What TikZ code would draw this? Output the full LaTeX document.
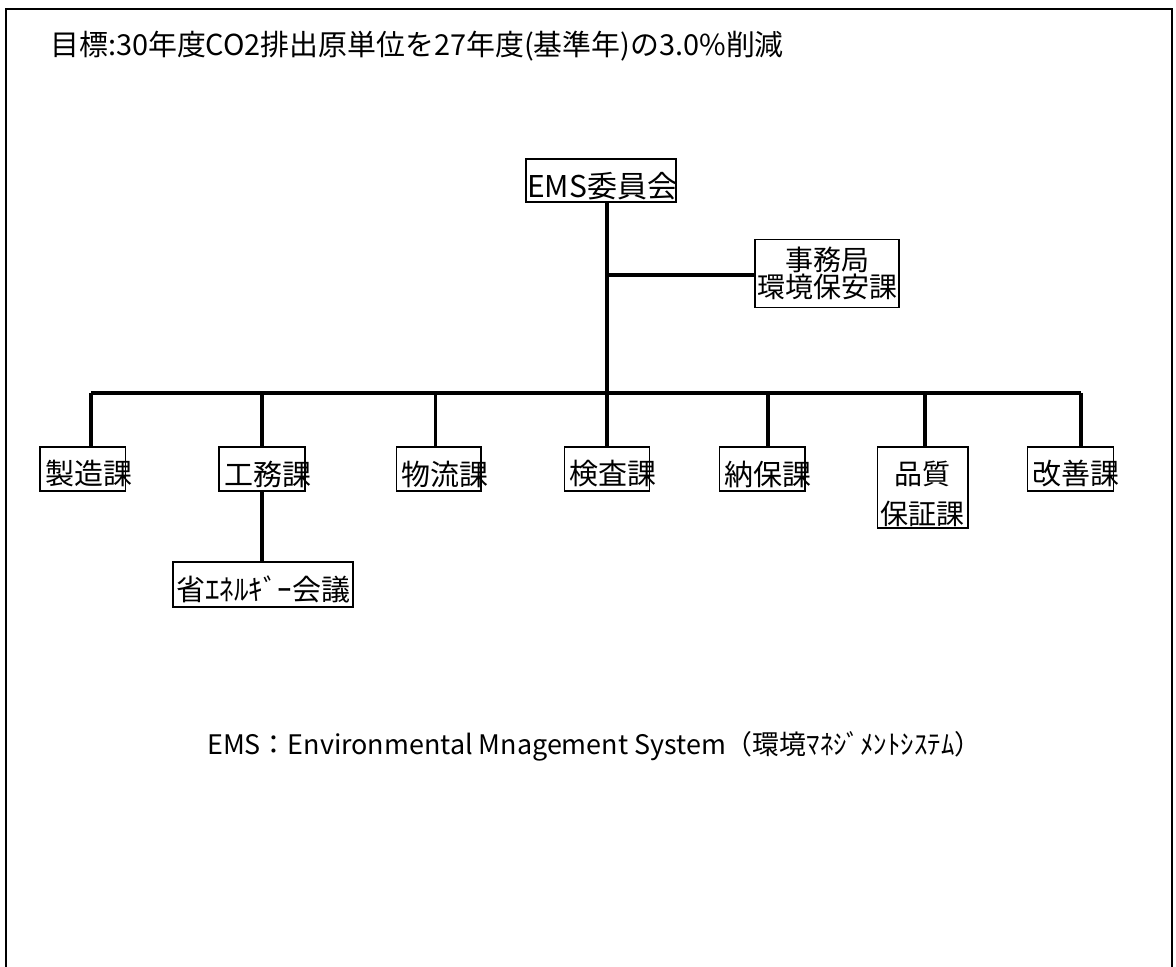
\documentclass[tikz,border=0pt]{standalone}
\usepackage{fontspec}
\setmainfont{Noto Sans CJK JP}
\begin{document}
\begin{tikzpicture}[x=1pt,y=-1pt,
  frame/.style={line width=2.2pt},
  box/.style={draw, line width=1.6pt, inner sep=0pt},
  lbl/.style={inner sep=0pt, font=\fontsize{29}{33}\selectfont},
  conn/.style={line width=3.2pt},
  bus/.style={line width=4.2pt}]
\useasboundingbox (0,0) rectangle (1176,967);
\fill[white] (0,0) rectangle (1176,967);
\draw[frame] (6,967) -- (6,9) -- (1172,9) -- (1172,967);

% title
\node[inner sep=0pt, anchor=west, font=\fontsize{28.9}{32}\selectfont] (title) at (50,46) {目標:30年度CO2排出原単位を27年度(基準年)の3.0\%削減};

% EMS committee
\node[box, minimum width=150, minimum height=43] (ems) at (601,180.5) {};
\node[lbl, anchor=west, font=\fontsize{30}{34}\selectfont] (emsT) at (527,186) {EMS委員会};

% secretariat
\node[box, minimum width=144, minimum height=68] (jim) at (827,273.5) {};
\node[lbl, align=center, font=\fontsize{28}{27}\selectfont] (jimT) at (827,273) {事務局\\環境保安課};

% trunk and bus
\coordinate (bus) at (607,393);
\coordinate (busL) at (91,393);
\coordinate (busR) at (1081,393);
\coordinate (tap) at (607,275);
\draw[conn] (ems.south -| bus) -- (bus);
\draw[conn] (tap) -- (tap -| jim.west);
\draw[bus] (busL) -- (busR);

% sections
\node[box, minimum width=85.5, minimum height=44] (seizo) at (82.75,469) {};
\node[lbl, anchor=west] (seizoT) at (45,474) {製造課};
\node[box, minimum width=86, minimum height=44] (koumu) at (262,469) {};
\node[lbl, anchor=west] (koumuT) at (224,474) {工務課};
\node[box, minimum width=84.5, minimum height=44] (butsu) at (438.75,469) {};
\node[lbl, anchor=west] (butsuT) at (401,474) {物流課};
\node[box, minimum width=85, minimum height=44] (kensa) at (607,469) {};
\node[lbl, anchor=west] (kensaT) at (569,474) {検査課};
\node[box, minimum width=85.5, minimum height=44] (nouho) at (762.25,469) {};
\node[lbl, anchor=west] (nouhoT) at (724,474) {納保課};
\node[box, minimum width=90.5, minimum height=81] (hin) at (922.75,487.5) {};
\node[lbl, align=center, font=\fontsize{28}{40}\selectfont] (hinT) at (922.75,494) {品質\\保証課};
\node[box, minimum width=86, minimum height=44] (kaizen) at (1070.5,469) {};
\node[lbl, anchor=west] (kaizenT) at (1032,474) {改善課};

\coordinate (d1) at (91,393);
\coordinate (d2) at (262,393);
\coordinate (d3) at (435.5,393);
\coordinate (d4) at (607,393);
\coordinate (d5) at (768,393);
\coordinate (d6) at (925,393);
\coordinate (d7) at (1081,393);
\draw[conn] (d1) -- (d1 |- seizo.north);
\draw[conn] (d2) -- (d2 |- koumu.north);
\draw[conn] (d3) -- (d3 |- butsu.north);
\draw[conn] (d4) -- (d4 |- kensa.north);
\draw[conn] (d5) -- (d5 |- nouho.north);
\draw[conn] (d6) -- (d6 |- hin.north);
\draw[conn] (d7) -- (d7 |- kaizen.north);

% energy saving meeting
\node[box, minimum width=180, minimum height=45] (ene) at (263,584.5) {};
\node[lbl, anchor=west] (eneT) at (176,589) {省ｴﾈﾙｷﾞｰ会議};
\draw[conn] (koumu.south) -- (koumu.south |- ene.north);

% footnote
\node[inner sep=0pt, anchor=west, font=\fontsize{26.9}{30}\selectfont] (note) at (207,746) {EMS：Environmental Mnagement System（環境ﾏﾈｼﾞﾒﾝﾄｼｽﾃﾑ）};
\end{tikzpicture}
\end{document}
